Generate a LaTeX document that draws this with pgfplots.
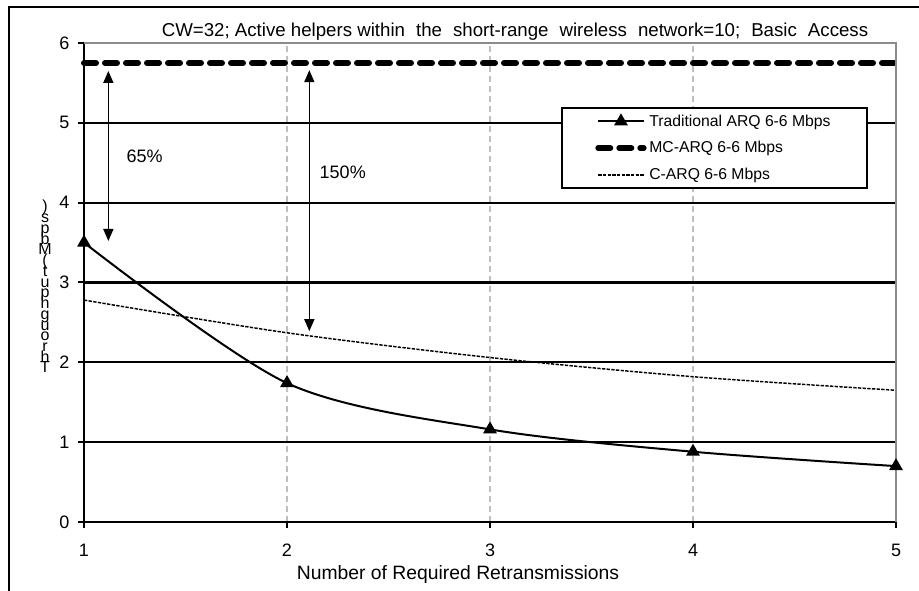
\documentclass[border=0pt]{standalone}
\usepackage{pgfplots}
\pgfplotsset{compat=1.18}
\usepackage{fontspec}
\setmainfont{Liberation Sans}
\usetikzlibrary{arrows.meta}
\begin{document}
\begin{tikzpicture}
\begin{axis}[
  at={(0,0)}, anchor=south west,
  scale only axis, width=609pt, height=359.25pt,
  xmin=1, xmax=5, ymin=0, ymax=6,
  xtick={1,2,3,4,5}, ytick={0,1,2,3,4,5,6},
  axis x line*=bottom, axis y line*=left,
  axis line style={line width=2pt, black},
  tick align=outside, major tick length=4.5pt,
  tick style={line width=1.5pt, black},
  xmajorgrids, ymajorgrids,
  y grid style={black, line width=1.6pt},
  x grid style={black!25, line width=1.2pt, dash pattern=on 4.5pt off 3pt},
  /pgf/number format/assume math mode=true,
  ticklabel style={font=\fontsize{13.5}{16}\selectfont},
  yticklabel style={xshift=-3pt},
  xticklabel style={yshift=-8.5pt},
  xlabel={Number of Required Retransmissions},
  xlabel style={font=\fontsize{14.5}{17}\selectfont, at={(axis description cs:0.4606,-0.1106)}, anchor=center},
  legend cell align=left,
  legend image code/.code={\draw[mark repeat=2,mark phase=2] plot coordinates {(0pt,0pt)(17pt,0pt)(34pt,0pt)};},
  legend style={at={(axis description cs:0.5874,0.8664)}, anchor=north west,
    draw=black, line width=1.5pt, fill=white, font=\fontsize{11.8}{14}\selectfont,
    inner xsep=25pt, inner ysep=3pt, row sep=6pt},
  clip=false,
]
\addplot[black, line width=1.5pt, smooth, mark=triangle*, mark size=4.5pt, mark options={solid}]
  coordinates {(1,3.50)(2,1.74)(3,1.16)(4,0.88)(5,0.70)};
\addlegendentry{Traditional ARQ 6-6 Mbps}
\addplot[black, line width=4.5pt, line cap=round, dash pattern=on 9pt off 6.75pt]
  coordinates {(1,5.75)(2,5.75)(3,5.75)(4,5.75)(5,5.75)};
\addlegendentry{MC-ARQ 6-6 Mbps}
\addplot[black, line width=1.1pt, dash pattern=on 2.5pt off 1pt, smooth]
  coordinates {(1,2.78)(2,2.37)(3,2.06)(4,1.82)(5,1.65)};
\addlegendentry{C-ARQ 6-6 Mbps}
\draw[black!45, line width=1.8pt] (rel axis cs:0,1) -- (rel axis cs:1,1) -- (rel axis cs:1,0);
\draw[{Triangle[length=9pt,width=7.5pt]}-{Triangle[length=9pt,width=7.5pt]}, line width=1.1pt]
  (axis cs:1.12,5.65) -- (axis cs:1.12,3.52);
\draw[{Triangle[length=9pt,width=7.5pt]}-{Triangle[length=9pt,width=7.5pt]}, line width=1.1pt]
  (axis cs:2.11,5.66) -- (axis cs:2.11,2.39);
\node[anchor=west, font=\fontsize{13.5}{16}\selectfont] at (axis cs:1.187,4.575) {65\%};
\node[anchor=west, font=\fontsize{13.5}{16}\selectfont] at (axis cs:2.138,4.375) {150\%};
\end{axis}
\node[font=\fontsize{14}{16}\selectfont] at (323.25pt,367.5pt)
  {CW=32; Active helpers within\hspace{4.4pt} the\hspace{4.4pt} short-range\hspace{4.4pt} wireless\hspace{4.4pt} network=10;\hspace{4.4pt} Basic\hspace{4.4pt} Access};
\foreach \c [count=\i] in {{)},s,p,b,M,{(},t,u,p,h,g,u,o,r,h,T}
  \node[font=\fontsize{12}{14}\selectfont, inner sep=0pt, anchor=base] at (-29.25pt,{232.5pt-(\i-1)*8.05pt}) {\c};
\draw[line width=1.6pt] (-56.25pt,-60pt) -- (-56.25pt,386.25pt) -- (640pt,386.25pt);
\pgfresetboundingbox
\useasboundingbox (-63pt,-51.75pt) rectangle (626.25pt,391.5pt);
\end{tikzpicture}
\end{document}
